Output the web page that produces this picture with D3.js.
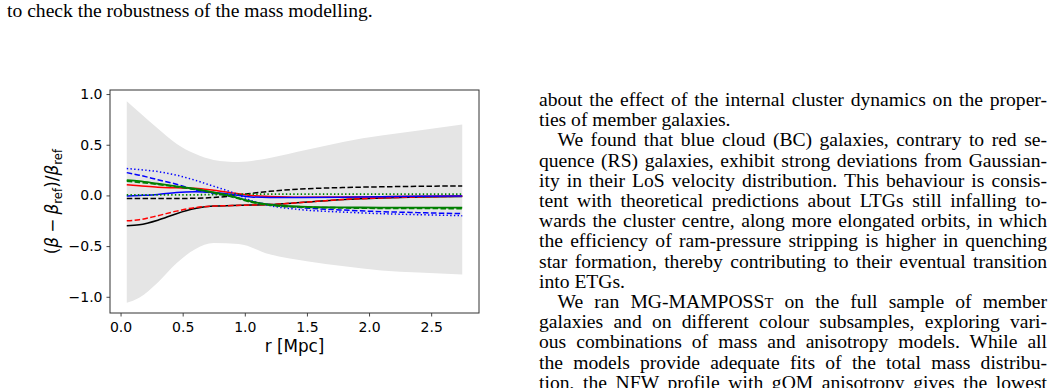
<!DOCTYPE html>
<html>
<head>
<meta charset="utf-8">
<script src="https://cdn.jsdelivr.net/npm/d3@7"></script>
<style>
html, body { margin: 0; padding: 0; background: #fff; }
svg { display: block; }
.txt { font-family: "Liberation Serif", "Times New Roman", serif; font-size: 19.6px; fill: #000; }
.ax text { font-family: "DejaVu Sans", sans-serif; font-size: 14px; fill: #000; }
.ax text.lab { font-size: 16.8px; }
</style>
</head>
<body>
<svg id="page" width="1057" height="388"></svg>
<script>
// Values: radius grid and (beta - beta_ref)/beta_ref curves

var r = [0.05, 0.15, 0.3, 0.45, 0.6, 0.75, 0.9, 1.05, 1.2, 1.45, 1.8, 2.1, 2.4, 2.75];

var bandR  = [0.05, 0.15, 0.3, 0.45, 0.6, 0.75, 0.95, 1.2, 1.5, 1.8, 2.1, 2.4, 2.75];
var bandHi = [0.93, 0.82, 0.66, 0.51, 0.41, 0.35, 0.33, 0.37, 0.45, 0.53, 0.59, 0.64, 0.70];
var bandLo = [-1.06, -1.01, -0.86, -0.67, -0.53, -0.47, -0.48, -0.58, -0.65, -0.70, -0.74, -0.76, -0.78];

var blackSolid  = [-0.30, -0.29, -0.245, -0.18, -0.13, -0.105, -0.10, -0.095, -0.09, -0.07, -0.04, -0.025, -0.015, -0.01];
var blackDashed = [-0.03, -0.03, -0.03, -0.03, -0.028, -0.02, -0.005, 0.02, 0.04, 0.063, 0.078, 0.085, 0.09, 0.093];
var redSolid    = [0.105, 0.095, 0.08, 0.075, 0.07, 0.05, 0.025, 0.0, -0.01, -0.018, -0.016, -0.012, -0.008, -0.005];
var redDashed   = [-0.25, -0.24, -0.20, -0.155, -0.12, -0.105, -0.10, -0.095, -0.09, -0.07, -0.04, -0.025, -0.015, -0.008];
var blueSolid   = [-0.005, 0.0, 0.01, 0.03, 0.035, 0.03, 0.01, -0.015, -0.02, -0.02, -0.017, -0.012, -0.008, -0.005];
var blueDashed  = [0.225, 0.2, 0.155, 0.11, 0.055, 0.02, -0.01, -0.06, -0.09, -0.12, -0.145, -0.16, -0.17, -0.18];
var blueDotted  = [0.265, 0.255, 0.235, 0.2, 0.15, 0.09, 0.03, -0.05, -0.10, -0.14, -0.165, -0.18, -0.19, -0.20];
var greenSolid  = [0.15, 0.14, 0.115, 0.09, 0.065, 0.03, -0.01, -0.06, -0.09, -0.11, -0.118, -0.12, -0.12, -0.12];
var greenDashed = [0.14, 0.13, 0.11, 0.085, 0.06, 0.025, -0.015, -0.065, -0.095, -0.115, -0.123, -0.127, -0.128, -0.13];
var greenDotted = [0.005, 0.005, 0.005, 0.005, 0.006, 0.008, 0.01, 0.012, 0.012, 0.012, 0.012, 0.012, 0.012, 0.012];

var xTicks = [0, 0.5, 1.0, 1.5, 2.0, 2.5];
var yTicks = [-1.0, -0.5, 0.0, 0.5, 1.0];

var series = [
  { v: blackSolid,  color: "#000", dash: null },
  { v: blackDashed, color: "#000", dash: "5.5,2.4" },
  { v: redSolid,    color: "#f00", dash: null },
  { v: redDashed,   color: "#f00", dash: "5.5,2.4" },
  { v: blueSolid,   color: "#00f", dash: null },
  { v: blueDashed,  color: "#00f", dash: "5.5,2.4" },
  { v: blueDotted,  color: "#00f", dash: "1.4,2.3" },
  { v: greenSolid,  color: "#008000", dash: null },
  { v: greenDashed, color: "#008000", dash: "5.5,2.4" },
  { v: greenDotted, color: "#008000", dash: "1.4,2.3" }
];

// page text
var captionLines = ["to check the robustness of the mass modelling."];

var columnLines = [
  { t: "about the effect of the internal cluster dynamics on the proper-", indent: false, last: false },
  { t: "ties of member galaxies.", indent: false, last: true },
  { t: "We found that blue cloud (BC) galaxies, contrary to red se-", indent: true, last: false },
  { t: "quence (RS) galaxies, exhibit strong deviations from Gaussian-", indent: false, last: false },
  { t: "ity in their LoS velocity distribution. This behaviour is consis-", indent: false, last: false },
  { t: "tent with theoretical predictions about LTGs still infalling to-", indent: false, last: false },
  { t: "wards the cluster centre, along more elongated orbits, in which", indent: false, last: false },
  { t: "the efficiency of ram-pressure stripping is higher in quenching", indent: false, last: false },
  { t: "star formation, thereby contributing to their eventual transition", indent: false, last: false },
  { t: "into ETGs.", indent: false, last: true },
  { t: "We ran MG-MAMPOSS|T| on the full sample of member", indent: true, last: false },
  { t: "galaxies and on different colour subsamples, exploring vari-", indent: false, last: false },
  { t: "ous combinations of mass and anisotropy models. While all", indent: false, last: false },
  { t: "the models provide adequate fits of the total mass distribu-", indent: false, last: false },
  { t: "tion, the NFW profile with gOM anisotropy gives the lowest", indent: false, last: false }
];

var svg = d3.select("#page");

// ---------- chart ----------
var box = { left: 110, right: 479, top: 90, bottom: 313 };

var x = d3.scaleLinear().domain([-0.085, 2.885]).range([box.left, box.right]);
var y = d3.scaleLinear().domain([-1.16, 1.04]).range([box.bottom, box.top]);

var chart = svg.append("g").attr("class", "ax");

var band = d3.area()
  .x(function (d, i) { return x(bandR[i]); })
  .y0(function (d, i) { return y(bandLo[i]); })
  .y1(function (d, i) { return y(bandHi[i]); })
  .curve(d3.curveMonotoneX);

chart.append("path")
  .datum(bandR)
  .attr("d", band)
  .attr("fill", "#e5e5e5");

var line = d3.line()
  .x(function (d, i) { return x(r[i]); })
  .y(function (d) { return y(d); })
  .curve(d3.curveMonotoneX);

series.forEach(function (s) {
  chart.append("path")
    .datum(s.v)
    .attr("d", line)
    .attr("fill", "none")
    .attr("stroke", s.color)
    .attr("stroke-width", s.color === "#008000" ? 1.8 : 1.5)
    .attr("stroke-dasharray", s.dash);
});

var fmt = d3.format(".1f");

chart.append("g")
  .attr("transform", "translate(0," + box.bottom + ")")
  .call(d3.axisBottom(x).tickValues(xTicks).tickFormat(fmt).tickSize(3.5).tickPadding(6))
  .call(function (g) { g.select(".domain").remove(); });

chart.append("g")
  .attr("transform", "translate(" + box.left + ",0)")
  .call(d3.axisLeft(y).tickValues(yTicks).tickFormat(fmt).tickSize(3.5).tickPadding(4))
  .call(function (g) { g.select(".domain").remove(); });

chart.selectAll(".tick line").attr("stroke", "#333").attr("stroke-width", 0.9);

chart.append("rect")
  .attr("x", box.left).attr("y", box.top)
  .attr("width", box.right - box.left).attr("height", box.bottom - box.top)
  .attr("fill", "none").attr("stroke", "#333").attr("stroke-width", 1);

chart.append("text")
  .attr("class", "lab")
  .attr("x", (box.left + box.right) / 2)
  .attr("y", 352)
  .attr("text-anchor", "middle")
  .text("r [Mpc]");

// y label: (β − β_ref)/β_ref
var yl = chart.append("text")
  .attr("class", "lab")
  .attr("transform", "translate(58," + ((box.top + box.bottom) / 2) + ") rotate(-90)")
  .attr("text-anchor", "middle");
yl.append("tspan").text("(");
yl.append("tspan").style("font-style", "italic").text("β");
yl.append("tspan").text("\u2005−\u2005");
yl.append("tspan").style("font-style", "italic").text("β");
yl.append("tspan").attr("dy", 3.5).style("font-size", "11.8px").text("ref");
yl.append("tspan").attr("dy", -3.5).text(")/");
yl.append("tspan").style("font-style", "italic").text("β");
yl.append("tspan").attr("dy", 3.5).style("font-size", "11.8px").text("ref");

// ---------- page text ----------
svg.selectAll("text.cap")
  .data(captionLines)
  .enter().append("text")
  .attr("class", "txt cap")
  .attr("x", 7)
  .attr("y", function (d, i) { return 17 + i * 20.2; })
  .text(function (d) { return d; })
  .each(function (d) {
    var w = this.getComputedTextLength();
    var n = (d.match(/ /g) || []).length;
    d3.select(this).attr("word-spacing", Math.max(0, (365 - w) / n));
  });

var colLeft = 539, colRight = 1047, indentW = 18.5, lineTop = 106, lead = 20.2;

columnLines.forEach(function (L, i) {
  var x0 = colLeft + (L.indent ? indentW : 0);
  var t = svg.append("text").attr("class", "txt")
    .attr("x", x0).attr("y", lineTop + i * lead);
  var parts = L.t.split("|");
  parts.forEach(function (p, k) {
    var sp = t.append("tspan").text(p);
    if (k % 2 === 1) sp.style("font-size", "14.6px");
  });
  if (!L.last) {
    var w = t.node().getComputedTextLength();
    var spaces = (L.t.match(/ /g) || []).length;
    if (spaces > 0) t.attr("word-spacing", ((colRight - x0) - w) / spaces);
  }
});
</script>
</body>
</html>
